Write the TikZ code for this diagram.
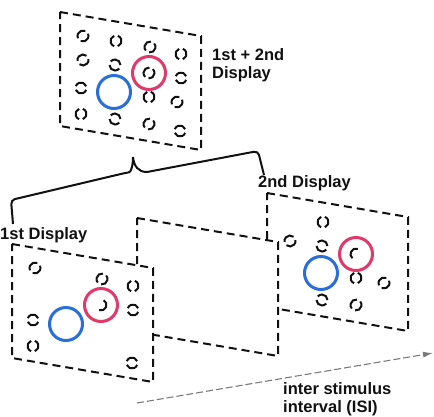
\documentclass[tikz,border=0pt]{standalone}
\usepackage{fontspec}
\setmainfont{Liberation Sans}
\usetikzlibrary{arrows.meta}
\definecolor{ink}{HTML}{111111}
\definecolor{cueblue}{HTML}{2A6EDC}
\definecolor{cuepink}{HTML}{E2386A}
\definecolor{isigray}{HTML}{7A7A7A}
\tikzset{
  every node/.style={font=\fontsize{16.5}{18.5}\selectfont\bfseries, text=ink, inner sep=0pt},
  frame/.style={draw=ink, fill=white, dash pattern=on 8pt off 5pt, line width=2pt},
  ring/.style={draw=ink, line width=2pt},
  bluecue/.style={draw=cueblue, line width=3pt},
  pinkcue/.style={draw=cuepink, line width=3pt},
  brace/.style={draw=ink, line width=2pt},
  isi/.style={draw=isigray, line width=1.1pt, dash pattern=on 7pt off 3pt, -{Latex[length=10pt,width=6pt]}},
}
% one display frame, origin at its top left corner
\newcommand\dispframe{\draw[frame] (0,0) -- (141,24) -- (141,138) -- (0,114) -- cycle;}
% broken ring: centre x, y and direction of its two gaps
\newcommand\gapring[3]{%
  \draw[ring] (#1,#2) ++(#3+20:5.5pt) arc[start angle=#3+20, end angle=#3+160, radius=5.5pt];
  \draw[ring] (#1,#2) ++(#3+200:5.5pt) arc[start angle=#3+200, end angle=#3+340, radius=5.5pt];}
\newcommand\cues{%
  \draw[bluecue] (54,80) circle[radius=16.5pt];
  \draw[pinkcue] (89,61) circle[radius=16.5pt];}
\def\firstset{23/24/45, 90/35/60, 121/42/90, 121/66/0, 21/76/0, 21/102/90, 120/119/0}
\def\secondset{56/29/90, 23/48/30, 55/53/160, 89/85/90, 117/90/45, 55/107/160, 89/112/60}

\begin{document}
\begin{tikzpicture}[x=1pt, y=-1pt]
  \useasboundingbox (0,0) rectangle (434,416);

  % combined display
  \begin{scope}[shift={(60,12)}]
    \dispframe
    \foreach \u/\v/\a in \firstset { \gapring{\u}{\v}{\a} }
    \foreach \u/\v/\a in \secondset { \gapring{\u}{\v}{\a} }
    \cues
    \gapring{89}{61}{65}
  \end{scope}
  \node[anchor=north west, align=left] (both) at (212,48) {1st + 2nd\\Display};

  % second display, behind
  \begin{scope}[shift={(267,193)}]
    \dispframe
    \foreach \u/\v/\a in \secondset { \gapring{\u}{\v}{\a} }
    \cues
    \draw[ring] (89,61) ++(70:5.5pt) arc[start angle=70, end angle=230, radius=5.5pt];
  \end{scope}
  \node[anchor=base west] (second) at (258,187) {2nd Display};

  % blank interval
  \begin{scope}[shift={(137,218)}]
    \dispframe
  \end{scope}

  % first display, in front
  \begin{scope}[shift={(12,244)}]
    \dispframe
    \foreach \u/\v/\a in \firstset { \gapring{\u}{\v}{\a} }
    \cues
    \draw[ring] (89,61) ++(-110:5.5pt) arc[start angle=-110, end angle=60, radius=5.5pt];
  \end{scope}
  \node[anchor=base west] (first) at (0,239) {1st Display};

  % brace over both displays
  \draw[brace] (13,224) [rounded corners=4pt] -- (11,200) -- (125,173) [sharp corners]
    .. controls (131,172) and (133,166) .. (133,157)
    .. controls (134,166) and (138,172) .. (147,172) [rounded corners=4pt] -- (258,151) -- (264,175);

  % time axis
  \coordinate (isiA) at (137,403);
  \coordinate (isiB) at (433,353);
  \draw[isi] (isiA) -- (isiB);
  \node[anchor=north west, align=left] (isilbl) at (283,382) {inter stimulus\\interval (ISI)};
\end{tikzpicture}
\end{document}
